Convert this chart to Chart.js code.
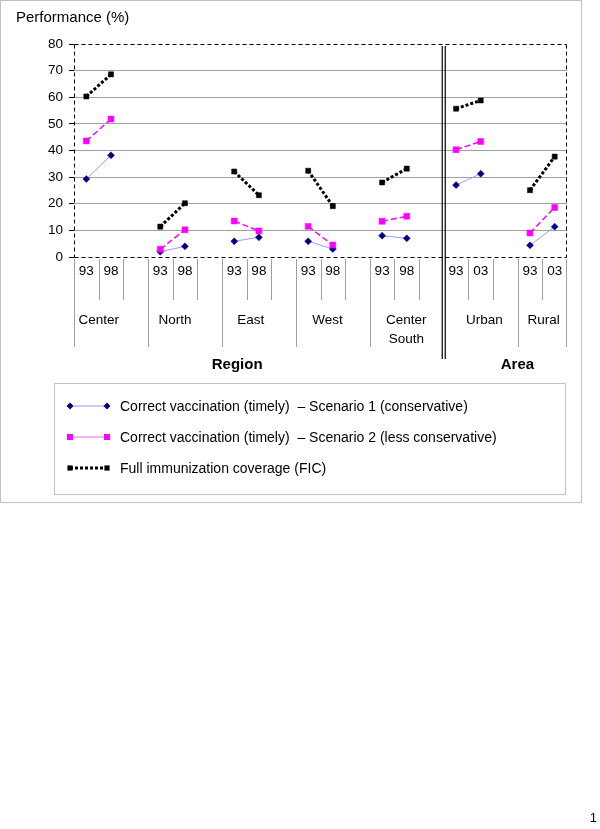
<!DOCTYPE html>
<html><head><meta charset="utf-8">
<script src="https://cdn.jsdelivr.net/npm/chart.js@4"></script>
<style>html,body{margin:0;padding:0;background:#fff;}canvas{display:block;}</style>
</head><body>
<canvas id="c" width="600" height="829"></canvas>
<script>
// ---- data ----
const groups = ['Center', 'North', 'East', 'West', ['Center', 'South'], 'Urban', 'Rural'];
const groupYears = [['93','98'], ['93','98'], ['93','98'], ['93','98'], ['93','98'], ['93','03'], ['93','03']];
const scenario1 = [29.3, 38.2, 2.0, 4.0, 5.9, 7.4, 5.9, 3.0, 8.0, 7.0, 27.0, 31.3, 4.4, 11.4];
const scenario2 = [43.6, 51.8, 2.9, 10.2, 13.5, 9.8, 11.5, 4.5, 13.4, 15.3, 40.3, 43.4, 9.0, 18.6];
const fic       = [60.3, 68.6, 11.4, 20.2, 32.1, 23.2, 32.4, 19.1, 28.0, 33.2, 55.7, 58.8, 25.1, 37.7];
const yTicks = [0, 10, 20, 30, 40, 50, 60, 70, 80];
const seriesNames = [
  'Correct vaccination (timely)  \u2013 Scenario 1 (conservative)',
  'Correct vaccination (timely)  \u2013 Scenario 2 (less conservative)',
  'Full immunization coverage (FIC)'
];
const superGroups = ['Region', 'Area'];
const yTitle = 'Performance (%)';
const pageNumber = '1';

// ---- build category slots (year, year, blank) ----
const labels = [];
const slotIndex = []; // index into value arrays, or -1 for blank
let vi = 0;
groups.forEach((g, i) => {
  groupYears[i].forEach(y => { labels.push(y); slotIndex.push(vi++); });
  if (i < groups.length - 1) { labels.push(''); slotIndex.push(-1); }
});
const toSlots = arr => slotIndex.map(k => k < 0 ? null : arr[k]);

const FONT = '"Liberation Sans", Arial, Helvetica, sans-serif';
const GRID = '#a0a0a0';
const FRAME = '#c0c0c0';

// layout styling (not data)
const groupLabelSlot = [1.0, 4.1, 7.17, 10.28, 13.48, 16.65, 19.05];
const superLabelSlot = [6.62, 17.99];
const groupBoundaries = [0, 3, 6, 9, 12, 18, 20];
const doubleBoundary = 15;

function marker(ctx, style, x, y, color) {
  ctx.save();
  ctx.fillStyle = color;
  ctx.beginPath();
  if (style === 'diamond') {
    const r = 3.5;
    ctx.moveTo(x - r, y); ctx.lineTo(x, y - r); ctx.lineTo(x + r, y); ctx.lineTo(x, y + r); ctx.closePath();
  } else {
    const s = style === 'sq6' ? 3 : 2.6;
    ctx.rect(x - s, y - s, 2 * s, 2 * s);
  }
  ctx.fill();
  ctx.restore();
}

const frameBefore = {
  id: 'frameBefore',
  beforeDatasetsDraw(chart) {
    const ctx = chart.ctx;
    const {left: L, right: R, top: T, bottom: B} = chart.chartArea;
    ctx.save();
    ctx.strokeStyle = '#000'; ctx.lineWidth = 1; ctx.setLineDash([4, 3]);
    const t = Math.round(T) + 0.5, b = Math.round(B) + 0.5;
    const l = Math.round(L) + 0.5, r = Math.round(R) - 0.5;
    ctx.beginPath();
    ctx.moveTo(l, t); ctx.lineTo(r, t);
    ctx.moveTo(l, b); ctx.lineTo(r, b);
    ctx.moveTo(l, t); ctx.lineTo(l, b);
    ctx.moveTo(r, t); ctx.lineTo(r, b);
    ctx.stroke();
    ctx.restore();
  }
};

const decor = {
  id: 'decor',
  afterDraw(chart) {
    const ctx = chart.ctx;
    const L = chart.chartArea.left, R = chart.chartArea.right;
    const T = chart.chartArea.top, B = chart.chartArea.bottom;
    const slot = (R - L) / labels.length;
    const bx = k => L + k * slot;
    ctx.save();
    // outer frame
    ctx.strokeStyle = FRAME; ctx.lineWidth = 1;
    ctx.strokeRect(0.5, 0.5, 581, 502);
    // category separators below the axis
    ctx.strokeStyle = GRID; ctx.lineWidth = 1;
    for (let k = 0; k <= labels.length; k++) {
      if (k === doubleBoundary) continue;
      const x = Math.round(bx(k)) + (k === labels.length ? -0.5 : 0.5);
      const long = groupBoundaries.includes(k);
      ctx.beginPath();
      ctx.moveTo(x, B + 2); ctx.lineTo(x, long ? 347 : 300);
      ctx.stroke();
    }
    // double separator line
    ctx.strokeStyle = '#000'; ctx.lineWidth = 1.2;
    const dx = bx(doubleBoundary);
    [-1.5, 1.5].forEach(o => {
      ctx.beginPath(); ctx.moveTo(dx + o, 46); ctx.lineTo(dx + o, 359); ctx.stroke();
    });
    // group labels
    ctx.fillStyle = '#000';
    ctx.textAlign = 'center'; ctx.textBaseline = 'middle';
    ctx.font = '13.5px ' + FONT;
    groups.forEach((g, i) => {
      const x = L + groupLabelSlot[i] * slot;
      const lines = Array.isArray(g) ? g : [g];
      lines.forEach((t, j) => ctx.fillText(t, x, 320 + j * 19));
    });
    ctx.font = 'bold 15px ' + FONT;
    superGroups.forEach((t, i) => ctx.fillText(t, L + superLabelSlot[i] * slot, 365));
    // y title
    ctx.font = '15px ' + FONT; ctx.textAlign = 'left';
    ctx.fillText(yTitle, 16, 18);
    // legend box
    ctx.strokeStyle = FRAME; ctx.lineWidth = 1;
    ctx.strokeRect(54.5, 383.5, 511, 111);
    const rows = [406, 437, 468];
    const ds = chart.data.datasets;
    rows.forEach((y, i) => {
      ctx.save();
      if (i === 0) { ctx.strokeStyle = '#9999ff'; ctx.lineWidth = 1; }
      if (i === 1) { ctx.strokeStyle = '#ff66ff'; ctx.lineWidth = 1; }
      if (i === 2) { ctx.strokeStyle = '#000'; ctx.lineWidth = 3; ctx.setLineDash([3, 2]); }
      ctx.beginPath(); ctx.moveTo(70, y); ctx.lineTo(107, y); ctx.stroke();
      ctx.restore();
      const st = i === 0 ? 'diamond' : (i === 1 ? 'sq6' : 'sq5');
      const col = ds[i].pointBackgroundColor;
      marker(ctx, st, 70, y, col); marker(ctx, st, 107, y, col);
      ctx.fillStyle = '#000'; ctx.font = '14px ' + FONT;
      ctx.textAlign = 'left'; ctx.textBaseline = 'middle';
      ctx.fillText(ds[i].label, 120, y + 1);
    });
    // page number
    ctx.font = '13px ' + FONT; ctx.textAlign = 'right';
    ctx.fillText(pageNumber, 597, 818);
    ctx.restore();
  }
};

new Chart(document.getElementById('c'), {
  type: 'line',
  data: {
    labels: labels,
    datasets: [
      { label: seriesNames[0], data: toSlots(scenario1), borderColor: '#9999ff', borderWidth: 1,
        pointStyle: 'rectRot', pointRadius: 3.5, pointBackgroundColor: '#000080', pointBorderColor: '#000080', pointBorderWidth: 0.5, spanGaps: false, order: 3 },
      { label: seriesNames[1], data: toSlots(scenario2), borderColor: '#ff00ff', borderWidth: 1.5, borderDash: [6, 3],
        pointStyle: 'rect', pointRadius: 4.2, pointBackgroundColor: '#ff00ff', pointBorderColor: '#ff00ff', pointBorderWidth: 0.5, spanGaps: false, order: 2 },
      { label: seriesNames[2], data: toSlots(fic), borderColor: '#000', borderWidth: 3, borderDash: [3, 2], borderCapStyle: 'butt',
        pointStyle: 'rect', pointRadius: 3.6, pointBackgroundColor: '#000', pointBorderColor: '#000', pointBorderWidth: 0.5, spanGaps: false, order: 1 }
    ]
  },
  options: {
    responsive: false, animation: false, devicePixelRatio: 1,
    layout: { padding: { left: 0, top: 44, right: 33, bottom: 542 } },
    plugins: { legend: { display: false }, title: { display: false }, tooltip: { enabled: false } },
    elements: { line: { tension: 0 } },
    scales: {
      x: {
        type: 'category', offset: true,
        grid: { display: false, drawTicks: false },
        border: { display: false },
        ticks: { autoSkip: false, maxRotation: 0, minRotation: 0, color: '#000', font: { family: FONT, size: 13.5 }, padding: 6 },
        afterFit(s) { s.height = 30; }
      },
      y: {
        min: 0, max: 80,
        afterBuildTicks(s) { s.ticks = yTicks.map(v => ({ value: v })); },
        ticks: { color: '#000', font: { family: FONT, size: 13.5 }, padding: 6 },
        grid: { color: c => (c.tick && (c.tick.value === 0 || c.tick.value === 80)) ? 'rgba(0,0,0,0)' : GRID,
                tickColor: '#000', tickLength: 5, lineWidth: 1 },
        border: { display: false, dash: [] },
        afterFit(s) { s.width = 74; }
      }
    }
  },
  plugins: [frameBefore, decor]
});
</script>
</body></html>
